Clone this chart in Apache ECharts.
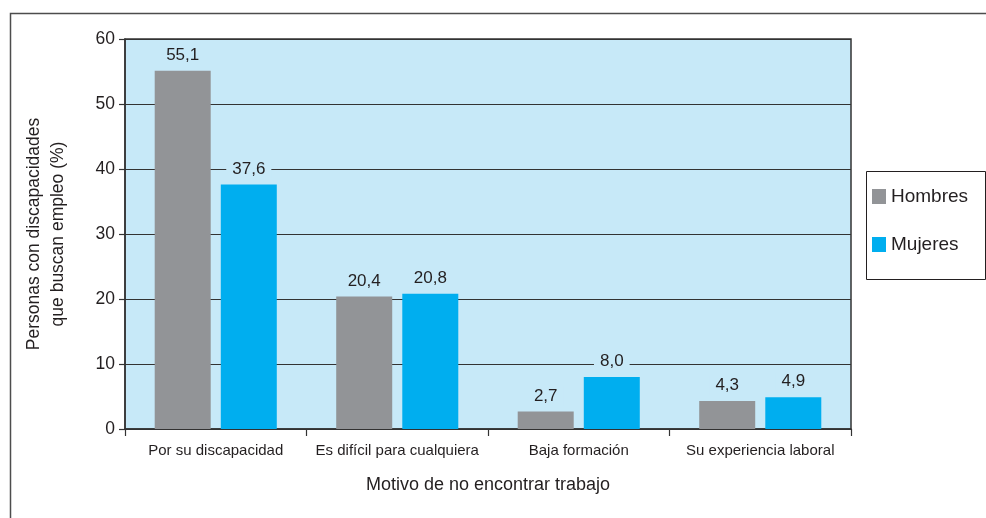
<!DOCTYPE html>
<html>
<head>
<meta charset="utf-8">
<script src="https://cdn.jsdelivr.net/npm/echarts@6/dist/echarts.min.js"></script>
<style>
  html, body {margin: 0; padding: 0; background: #fff;}
  #chart {width: 986px; height: 518px;}
</style>
</head>
<body>
<div id="chart"></div>
<script>
// datos
var categorias = ['Por su discapacidad', 'Es difícil para cualquiera', 'Baja formación', 'Su experiencia laboral'];
var hombres = [55.1, 20.4, 2.7, 4.3];
var mujeres = [37.6, 20.8, 8.0, 4.9];
var yTicks = [0, 10, 20, 30, 40, 50, 60];

var txt = '#231f20';
var fondo = '#c7e9f8';
var fuente = 'Liberation Sans, Arial, sans-serif';

var etiqueta = {
    show: true,
    position: 'top',
    distance: 6,
    fontFamily: fuente,
    fontSize: 17,
    color: txt,
    backgroundColor: fondo,
    padding: [1, 6],
    formatter: function (p) { return p.value.toFixed(1).replace('.', ','); }
};

var chart = echarts.init(document.getElementById('chart'));

option = {
    backgroundColor: '#fff',
    animation: false,
    textStyle: {fontFamily: fuente, color: txt},
    graphic: [
        {
            type: 'rect',
            left: 8, top: 11,
            shape: {width: 1100, height: 700},
            style: {fill: 'none', stroke: '#4d4d4d', lineWidth: 1.5}
        },
        {
            type: 'rect',
            left: 866, top: 171,
            shape: {width: 119, height: 108},
            style: {fill: '#fff', stroke: txt, lineWidth: 1}
        }
    ],
    legend: {
        orient: 'vertical',
        left: 872,
        top: 187,
        padding: 0,
        itemWidth: 14,
        itemHeight: 15,
        itemGap: 29,
        icon: 'rect',
        textStyle: {fontFamily: fuente, fontSize: 19, color: txt, lineHeight: 19},
        data: ['Hombres', 'Mujeres']
    },
    grid: {
        left: 125,
        right: 135,
        top: 39,
        bottom: 89,
        show: true,
        backgroundColor: fondo,
        borderColor: '#333',
        borderWidth: 1.5
    },
    xAxis: [
        {
            type: 'category',
            data: categorias,
            name: 'Motivo de no encontrar trabajo',
            nameLocation: 'middle',
            nameGap: 47,
            nameTextStyle: {fontFamily: fuente, fontSize: 18, color: txt},
            axisLine: {lineStyle: {color: '#333', width: 1.5}},
            axisTick: {show: true, length: 7, lineStyle: {color: '#333', width: 1.2}},
            axisLabel: {fontFamily: fuente, fontSize: 15, color: txt, margin: 14, interval: 0}
        }
    ],
    yAxis: [
        {
            type: 'value',
            min: yTicks[0],
            max: yTicks[yTicks.length - 1],
            interval: 10,
            name: 'Personas con discapacidades\nque buscan empleo (%)',
            nameLocation: 'middle',
            nameGap: 55,
            nameTextStyle: {fontFamily: fuente, fontSize: 17.5, color: txt, lineHeight: 24},
            axisLine: {show: true, lineStyle: {color: '#333', width: 1.5}},
            axisTick: {show: true, length: 6, lineStyle: {color: '#333', width: 1.2}},
            axisLabel: {fontFamily: fuente, fontSize: 17.5, color: txt, margin: 10},
            splitLine: {show: true, lineStyle: {color: '#333', width: 1.2}}
        }
    ],
    series: [
        {
            name: 'Hombres',
            type: 'bar',
            data: hombres,
            barWidth: 56,
            barGap: '18%',
            itemStyle: {color: '#929497'},
            label: etiqueta
        },
        {
            name: 'Mujeres',
            type: 'bar',
            data: mujeres,
            barWidth: 56,
            barGap: '18%',
            itemStyle: {color: '#00aeef'},
            label: etiqueta
        }
    ]
};

chart.setOption(option);
</script>
</body>
</html>
